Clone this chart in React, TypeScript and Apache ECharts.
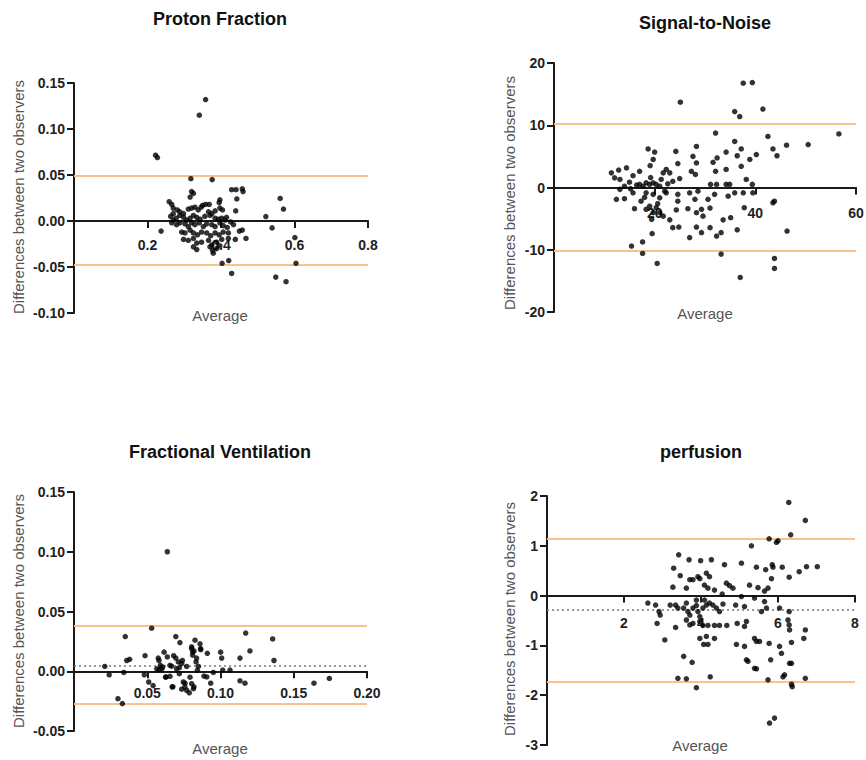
import React, { useEffect, useRef } from "react";
import * as echarts from "echarts";

// ---------- Data ----------
const titles = ["Proton Fraction", "Signal-to-Noise", "Fractional Ventilation", "perfusion"];
const yAxisTitle = "Differences between two observers";
const xAxisTitle = "Average";

// Proton Fraction: [average, difference]
const protonPoints: number[][] = [
  [0.358, 0.132], [0.341, 0.115], [0.222, 0.0715], [0.227, 0.069], [0.318, 0.046], [0.376, 0.045],
  [0.429, 0.034], [0.441, 0.034], [0.458, 0.035], [0.46, 0.032], [0.443, 0.024], [0.44, 0.011],
  [0.561, 0.0245], [0.57, 0.013], [0.522, 0.0048], [0.539, -0.0075], [0.237, -0.011], [0.468, -0.019],
  [0.45, -0.011], [0.458, -0.0099], [0.439, -0.02], [0.403, -0.046], [0.421, -0.043], [0.429, -0.057],
  [0.604, -0.046], [0.549, -0.061], [0.577, -0.066], [0.601, -0.018],
  [0.259, 0.021], [0.266, 0.018], [0.32, 0.032], [0.325, 0.03], [0.316, 0.026], [0.397, 0.023],
  [0.395, 0.02], [0.358, 0.018], [0.368, 0.018], [0.346, 0.015], [0.35, 0.017], [0.27, 0.014],
  [0.281, 0.012], [0.288, 0.01], [0.298, 0.008], [0.311, 0.013], [0.32, 0.014], [0.329, 0.015],
  [0.338, 0.012], [0.366, 0.01], [0.375, 0.008], [0.384, 0.011], [0.397, 0.014], [0.404, 0.012],
  [0.27, 0.008], [0.263, 0.005], [0.27, 0.001], [0.278, 0.003], [0.288, 0.006], [0.298, 0.004],
  [0.307, 0.001], [0.316, 0.003], [0.325, 0.006], [0.334, 0.004], [0.343, 0.002], [0.356, 0.005],
  [0.37, 0.006], [0.384, 0.003], [0.393, 0.002], [0.402, 0.003], [0.411, 0.001], [0.415, 0.004],
  [0.426, -0.001], [0.266, -0.002], [0.279, -0.004], [0.288, -0.002], [0.302, -0.003], [0.311, -0.006],
  [0.32, -0.002], [0.329, -0.004], [0.341, -0.002], [0.352, -0.006], [0.361, -0.003], [0.375, -0.004],
  [0.384, -0.006], [0.397, -0.002], [0.406, -0.005], [0.417, -0.007], [0.434, -0.004], [0.293, -0.012],
  [0.302, -0.013], [0.316, -0.01], [0.325, -0.013], [0.336, -0.015], [0.347, -0.012], [0.361, -0.013],
  [0.372, -0.016], [0.384, -0.013], [0.395, -0.015], [0.406, -0.012], [0.42, -0.013], [0.298, -0.02],
  [0.311, -0.021], [0.325, -0.019], [0.334, -0.024], [0.347, -0.023], [0.366, -0.021], [0.375, -0.026],
  [0.388, -0.023], [0.402, -0.02], [0.42, -0.019], [0.325, -0.028], [0.334, -0.031], [0.37, -0.028],
  [0.377, -0.032], [0.379, -0.035], [0.388, -0.03], [0.397, -0.027],
];
const protonLimits = [0.049, -0.048];

// Signal-to-Noise
const snrPoints: number[][] = [
  [25.1, 13.7], [37.6, 16.75], [39.4, 16.85], [35.9, 12.2], [36.9, 11.4], [41.5, 12.6], [42.5, 8.2],
  [56.6, 8.6], [50.5, 6.9], [46.2, 6.8], [43.5, 6.2], [44.3, 5.1], [40.2, 5.3], [38.9, 4.5], [37.2, 6.2],
  [35.9, 7.4], [36.4, 5.1], [34.2, 5.7], [32.1, 8.75], [32.4, 4.75], [31.6, 4.05], [32.1, 2.6], [34.2, 2.9],
  [37.2, 3.4], [38.2, 1.3], [39.4, 0.5], [39.5, -0.85], [37.6, -0.85], [35.9, -0.85], [34.6, -1.4],
  [34.9, 0.5], [34.2, 0.5], [32.3, 0.5], [31.1, 0.5], [31.9, -1.1], [30.6, -1.9], [31.0, -3.3], [28.3, 6.6],
  [27.6, 5.0], [28.3, 3.95], [27.3, 2.6], [28.1, 2.1], [26.95, -0.85], [28.6, -0.6], [28.0, -1.9],
  [26.6, -3.4], [28.3, -4.05], [29.3, -3.5], [29.6, -4.6], [28.3, -6.35], [29.3, -7.25], [26.95, -8.05],
  [31.0, -6.45], [32.3, -7.8], [33.2, -7.25], [33.6, -5.2], [35.1, -4.85], [36.4, -6.8], [37.8, -3.25],
  [33.2, -10.7], [37.0, -14.45], [43.8, -11.4], [43.8, -13.0], [46.3, -7.0], [43.5, -2.45], [43.8, -2.2],
  [24.2, 5.8], [24.6, 3.85], [24.97, 1.44], [22.3, 2.9], [21.7, 2.35], [23.0, 2.35], [23.6, 1.0],
  [22.3, -0.85], [24.6, -1.1], [24.6, -2.2], [24.3, -3.6], [23.0, -5.2], [23.6, -6.45], [24.8, -6.35],
  [20.5, -12.2], [17.6, -10.6], [17.6, -8.75], [15.4, -9.4], [19.5, -7.4], [18.7, 6.2], [20.0, 5.7],
  [19.1, 3.5], [19.7, 4.5], [17.0, 2.6], [14.4, 3.15], [12.85, 2.8], [11.4, 2.35], [12.05, 1.55],
  [13.1, 1.3], [15.7, 1.9], [15.0, 0.85], [14.0, 0.2], [13.1, -0.3], [12.4, -1.9], [14.0, -1.8],
  [15.7, -0.85], [16.0, -3.4], [17.0, 0.5], [17.7, 0.2], [18.3, 0.75], [19.0, 0.5], [19.7, 0.75],
  [20.3, 0.5], [21.0, 0.2], [18.3, -0.85], [19.7, -1.1], [21.0, -1.65], [19.0, -3.0], [18.3, -3.5],
  [19.7, -4.05], [20.3, -3.25], [21.0, -4.05], [19.4, -5.1], [21.7, -4.6], [22.0, -0.6], [21.3, 1.3],
  [16.4, 0.4], [18.0, -1.6], [20.6, -2.6], [22.6, 0.6], [15.2, -0.2], [17.3, -2.2], [19.2, 1.6],
];
const snrLimits = [10.2, -10.2];

// Fractional Ventilation
const fvPoints: number[][] = [
  [0.0637, 0.1], [0.053, 0.036], [0.035, 0.029], [0.036, 0.009], [0.038, 0.01], [0.034, -0.001],
  [0.021, 0.004], [0.024, -0.003], [0.03, -0.023], [0.033, -0.027], [0.0485, 0.013], [0.048, -0.003],
  [0.051, -0.009], [0.054, -0.012], [0.0575, 0.011], [0.058, 0.009], [0.059, 0.005], [0.06, 0.002],
  [0.0615, 0.016], [0.0625, -0.005], [0.0565, 0.002], [0.0655, 0.005], [0.0675, -0.013], [0.068, 0.013],
  [0.0695, 0.029], [0.0723, 0.024], [0.0695, 0.011], [0.07, 0.002], [0.0719, -0.002], [0.0735, -0.015],
  [0.074, 0.009], [0.0758, -0.01], [0.0769, 0.004], [0.0787, -0.018], [0.0792, -0.005], [0.0803, 0.019],
  [0.081, 0.016], [0.0826, 0.026], [0.0837, 0.011], [0.0819, -0.013], [0.0849, 0.004], [0.086, 0.023],
  [0.0865, 0.018], [0.0887, -0.004], [0.091, 0.015], [0.0933, -0.01], [0.0951, -0.001], [0.1001, 0.016],
  [0.1008, 0.011], [0.1015, 0.001], [0.1065, 0.001], [0.1133, 0.011], [0.1133, -0.008], [0.1167, -0.01],
  [0.1172, 0.032], [0.1201, 0.017], [0.1356, 0.027], [0.1365, 0.009], [0.1638, -0.01], [0.1743, -0.006],
  [0.0605, 0.0036], [0.0582, 0.0014], [0.0637, 0.012], [0.0712, 0.0078], [0.0735, 0.0064], [0.0719, 0.003],
  [0.0666, 0.0042], [0.0655, -0.0042], [0.0628, -0.0048], [0.067, -0.013], [0.0746, -0.009],
  [0.0757, -0.0131], [0.0769, -0.0159], [0.0803, -0.0104], [0.0815, -0.0146], [0.0803, 0.0204],
  [0.0819, 0.017], [0.081, 0.0134], [0.0833, 0.0078], [0.0842, 0.0008], [0.0864, 0.019], [0.0906, -0.0048],
];
const fvLimits = [0.0377, -0.0274];
const fvMean = 0.005;

// Perfusion
const perfPoints: number[][] = [
  [6.28, 1.87], [6.71, 1.51], [6.33, 1.22], [5.77, 1.14], [5.96, 1.07], [6.0, 1.1], [5.31, 1.0],
  [5.05, 0.65], [5.44, 0.57], [5.68, 0.52], [5.85, 0.62], [5.87, 0.57], [6.11, 0.57], [6.29, 0.37],
  [6.55, 0.48], [6.74, 0.58], [7.02, 0.58], [5.83, 0.34], [5.74, 0.15], [5.48, 0.16], [5.26, 0.21],
  [5.65, 0.09], [5.39, -0.05], [5.05, -0.02], [4.83, 0.15], [4.66, 0.25], [4.74, 0.2], [4.61, 0.62],
  [4.55, 0.03], [4.27, 0.72], [3.99, 0.7], [3.69, 0.72], [3.42, 0.82], [3.29, 0.55], [3.46, 0.4],
  [3.27, 0.17], [3.71, 0.32], [3.79, 0.32], [3.92, 0.38], [3.97, 0.34], [4.14, 0.45], [4.22, 0.38],
  [4.09, 0.21], [4.18, 0.15], [4.35, 0.11], [3.62, 0.15], [2.62, -0.15], [2.82, -0.19], [2.91, -0.32],
  [2.94, -0.39], [2.86, -0.56], [3.06, -0.89], [3.2, -0.19], [3.34, -0.19], [3.4, -0.25], [3.34, -0.64],
  [3.55, -0.25], [3.62, -0.15], [3.66, -0.32], [3.71, -0.39], [3.79, -0.25], [3.88, -0.2], [3.92, -0.32],
  [3.97, -0.42], [4.05, -0.25], [4.14, -0.19], [4.22, -0.15], [4.31, -0.19], [4.4, -0.25], [4.48, -0.32],
  [4.57, -0.17], [3.88, -0.09], [4.09, -0.09], [3.62, -0.49], [3.71, -0.59], [3.79, -0.56], [3.97, -0.52],
  [4.05, -0.6], [4.18, -0.6], [4.35, -0.6], [4.48, -0.6], [4.67, -0.6], [3.97, -0.86], [4.14, -0.82],
  [4.35, -0.86], [4.07, -0.98], [4.18, -0.98], [3.55, -1.22], [3.77, -1.34], [3.4, -1.66], [3.62, -1.67],
  [3.88, -1.85], [4.24, -1.63], [4.9, -0.19], [4.94, -0.56], [4.92, -0.98], [5.13, -0.22], [5.18, -0.52],
  [5.13, -0.62], [5.13, -1.02], [5.18, -1.29], [5.22, -1.32], [5.39, -1.46], [5.44, -1.47], [5.44, -0.92],
  [5.39, -0.86], [5.52, -0.92], [5.57, -0.32], [5.65, -0.12], [5.7, -0.25], [5.77, -0.96], [5.81, -1.29],
  [5.74, -1.69], [6.04, -1.02], [6.09, -1.16], [6.13, -1.63], [6.17, -1.59], [6.29, -0.32], [6.26, -0.49],
  [6.29, -0.59], [6.3, -0.69], [6.35, -0.94], [6.3, -1.36], [6.35, -1.36], [6.35, -1.78], [6.37, -1.83],
  [6.04, -0.25], [6.71, -0.69], [6.67, -0.86], [6.71, -1.66], [5.78, -2.56], [5.91, -2.46],
];
const perfLimits = [1.15, -1.73];
const perfMean = -0.28;

// Axis settings
const xMins = [0, 0, 0, 0];
const xMaxs = [0.8, 60, 0.2, 8];
const xIntervals = [0.2, 20, 0.05, 2];
const xDecimals = [1, 0, 2, 0];
const yMins = [-0.1, -20, -0.05, -3];
const yMaxs = [0.15, 20, 0.15, 2];
const yIntervals = [0.05, 10, 0.05, 1];
const yDecimals = [2, 0, 2, 0];

// ---------- Layout ----------
const grids = [
  { left: 74, top: 83, width: 294, height: 230 },
  { left: 554, top: 63, width: 302, height: 249 },
  { left: 74, top: 492, width: 293, height: 239 },
  { left: 547, top: 496, width: 308, height: 249 },
];
const xLabelMargins = [17, 18, 15, 20];
const titlePos = [
  [220, 19], [705, 23], [220, 452], [701, 452],
];
const avgPos = [
  [220, 315], [705, 313], [220, 748], [700, 745],
];
const yNamePos = [
  [18, 197], [509, 193], [18, 611], [509, 619],
];

const FONT = "'Liberation Sans', Arial, Helvetica, sans-serif";
const ORANGE = "#f9c18c";
const AXIS_COLOR = "#1a1a1a";

export default function App() {
  const ref = useRef<HTMLDivElement>(null);

  useEffect(() => {
    document.body.style.margin = "0";
    if (!ref.current) return;
    const chart = echarts.init(ref.current, null, { renderer: "svg" });

    const pointSets = [protonPoints, snrPoints, fvPoints, perfPoints];
    const limits = [protonLimits, snrLimits, fvLimits, perfLimits];
    const means: (number | null)[] = [null, null, fvMean, perfMean];

    const axisLineStyle = { color: AXIS_COLOR, width: 2 };
    const tickStyle = { show: true, inside: false, length: 7, lineStyle: { width: 2, color: AXIS_COLOR } };
    const labelBase = { color: "#222", fontSize: 14, fontWeight: "bold", fontFamily: FONT };

    // Main grids (data) + helper grids whose bottom edge sits on the zero line of y
    const helperGrids = grids.map((g, i) => ({
      left: g.left,
      width: g.width,
      top: g.top,
      height: (g.height * yMaxs[i]) / (yMaxs[i] - yMins[i]),
    }));
    const allGrids = [...grids, ...helperGrids].map((g) => ({
      ...g,
      containLabel: false,
      outerBoundsMode: "none",
    }));

    const xAxis: any[] = [];
    const yAxis: any[] = [];
    grids.forEach((_, i) => {
      xAxis.push({
        type: "value",
        gridIndex: i,
        min: xMins[i],
        max: xMaxs[i],
        interval: xIntervals[i],
        show: false,
        splitLine: { show: false },
      });
      yAxis.push({
        type: "value",
        gridIndex: i,
        min: yMins[i],
        max: yMaxs[i],
        interval: yIntervals[i],
        axisLine: { show: true, onZero: false, lineStyle: axisLineStyle },
        axisTick: tickStyle,
        axisLabel: {
          ...labelBase,
          show: true,
          margin: 9,
          formatter: (v: number) => v.toFixed(yDecimals[i]),
        },
        splitLine: { show: false },
      });
    });
    grids.forEach((_, i) => {
      xAxis.push({
        type: "value",
        gridIndex: 4 + i,
        position: "bottom",
        min: xMins[i],
        max: xMaxs[i],
        interval: xIntervals[i],
        axisLine: { show: true, onZero: false, lineStyle: axisLineStyle },
        axisTick: tickStyle,
        axisLabel: {
          ...labelBase,
          show: true,
          showMinLabel: false,
          margin: xLabelMargins[i],
          formatter: (v: number) => v.toFixed(xDecimals[i]),
        },
        splitLine: { show: false },
      });
      yAxis.push({
        type: "value",
        gridIndex: 4 + i,
        min: 0,
        max: 1,
        show: false,
        splitLine: { show: false },
      });
    });

    const series: any[] = [];
    pointSets.forEach((pts, i) => {
      const mlData: any[] = limits[i].map((v) => ({
        yAxis: v,
        lineStyle: { color: ORANGE, width: 2, type: "solid" },
      }));
      if (means[i] !== null) {
        mlData.push({
          yAxis: means[i],
          lineStyle: { color: "#777", width: 1.6, type: [2, 3] },
        });
      }
      series.push({
        type: "scatter",
        xAxisIndex: i,
        yAxisIndex: i,
        data: pts,
        symbol: "circle",
        symbolSize: 5.5,
        itemStyle: { color: "#000" },
        z: 5,
        markLine: {
          silent: true,
          precision: 6,
          symbol: ["none", "none"],
          label: { show: false },
          animation: false,
          z: 1,
          data: mlData,
        },
      });
    });

    const graphics: any[] = [];
    titles.forEach((t, i) => {
      graphics.push({
        type: "text",
        x: titlePos[i][0],
        y: titlePos[i][1],
        style: {
          text: t,
          fill: "#111",
          font: `bold 18px ${FONT}`,
          textAlign: "center",
          textVerticalAlign: "middle",
        },
      });
      graphics.push({
        type: "text",
        x: avgPos[i][0],
        y: avgPos[i][1],
        style: {
          text: xAxisTitle,
          fill: "#555",
          font: `15px ${FONT}`,
          textAlign: "center",
          textVerticalAlign: "middle",
        },
      });
      graphics.push({
        type: "text",
        x: yNamePos[i][0],
        y: yNamePos[i][1],
        rotation: Math.PI / 2,
        style: {
          text: yAxisTitle,
          fill: "#555",
          font: `15px ${FONT}`,
          textAlign: "center",
          textVerticalAlign: "middle",
        },
      });
    });

    chart.setOption({
      animation: false,
      backgroundColor: "#ffffff",
      grid: allGrids,
      xAxis,
      yAxis,
      series,
      graphic: graphics,
    });

    return () => chart.dispose();
  }, []);

  return <div ref={ref} style={{ width: 866, height: 760 }} />;
}
